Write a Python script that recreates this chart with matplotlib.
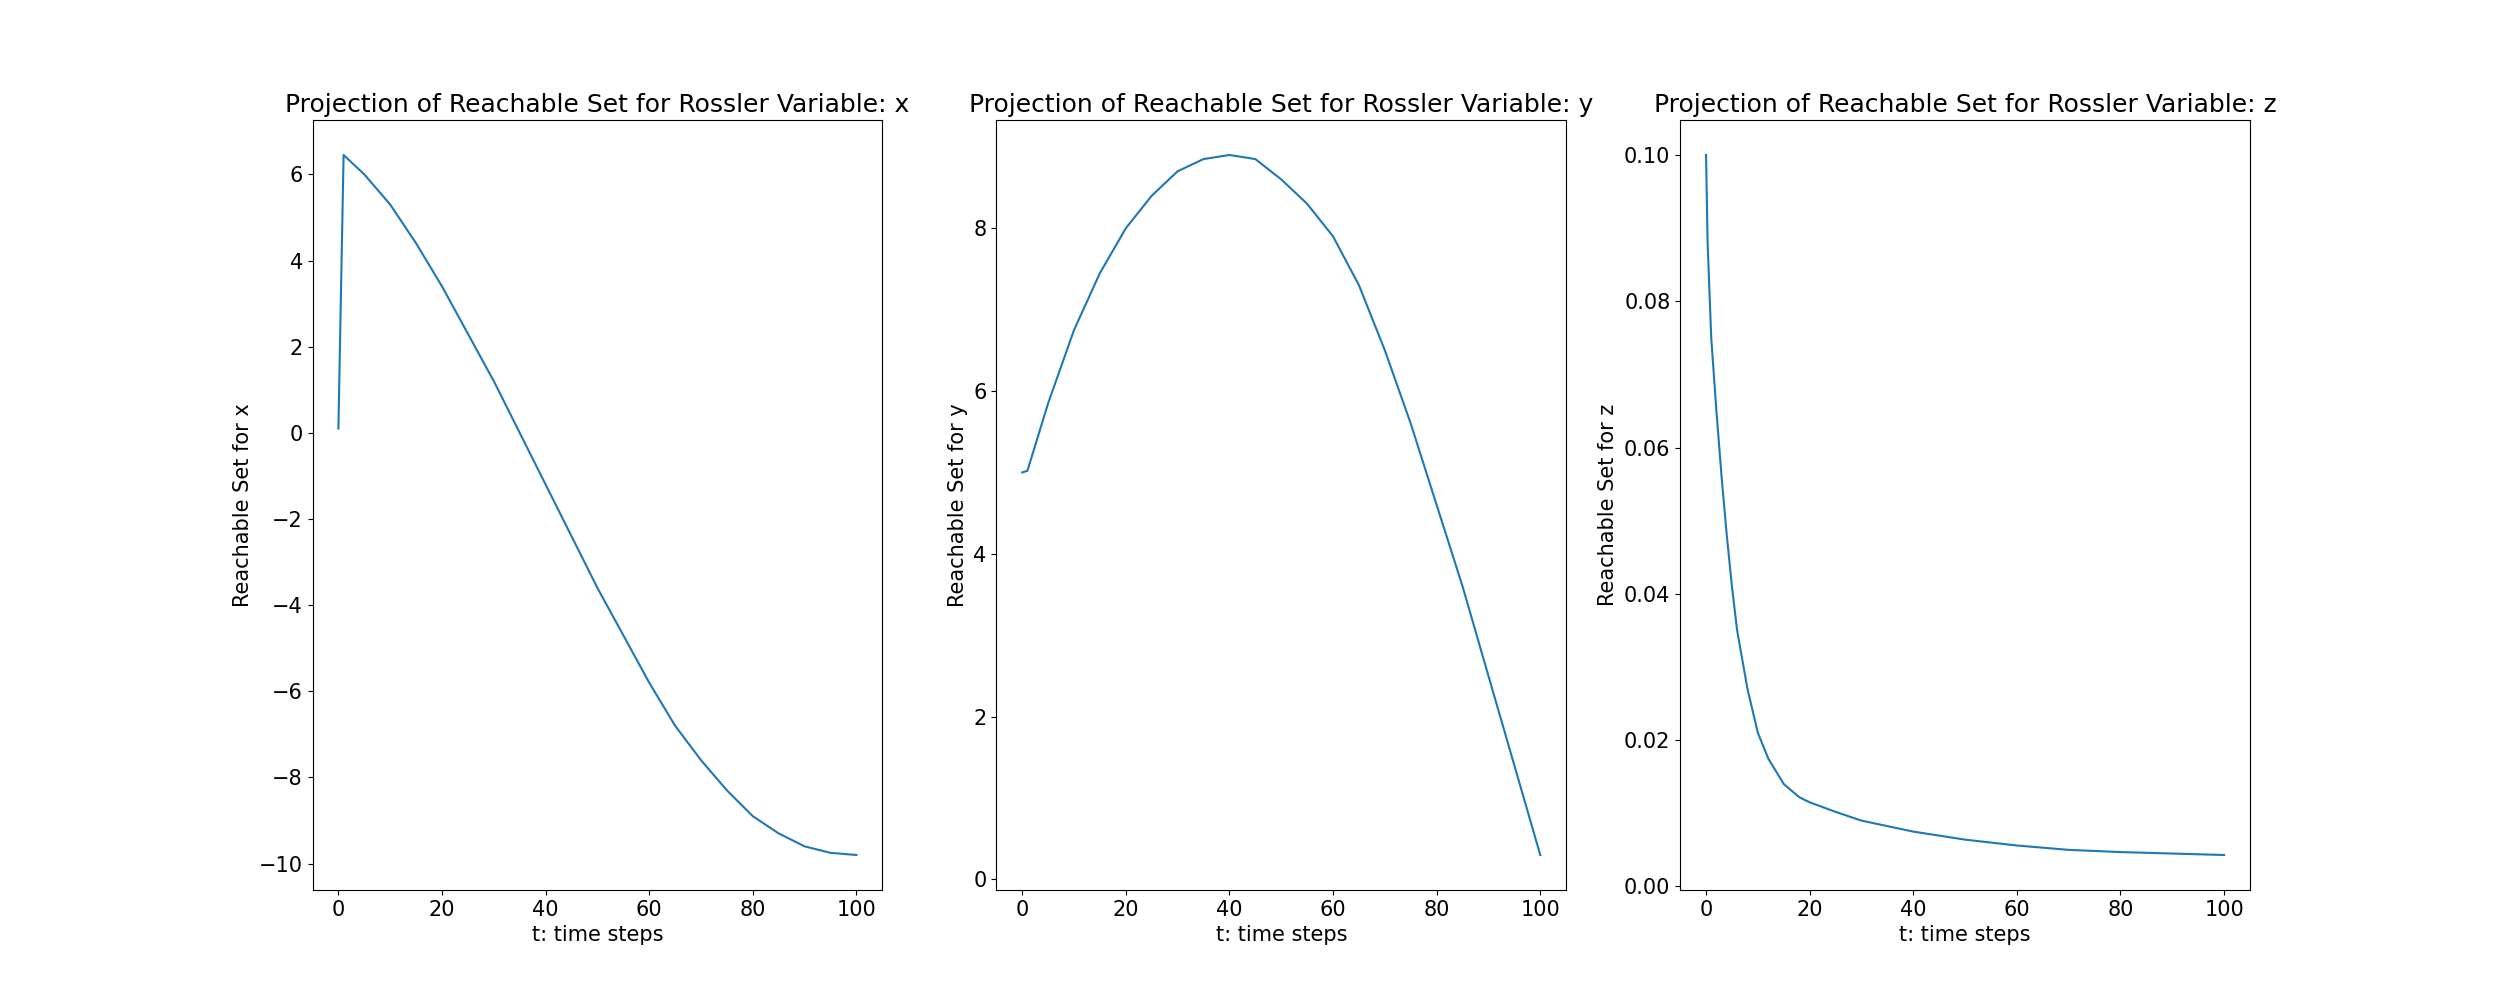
import numpy as np
import matplotlib
matplotlib.use("Agg")
import matplotlib.pyplot as plt

# values
tx = [0, 1, 5, 10, 15, 20, 25, 30, 35, 40, 45, 50, 55, 60, 65, 70, 75, 80, 85, 90, 95, 100]
x = [0.1, 6.45, 6.0, 5.3, 4.4, 3.4, 2.3, 1.2, 0.0, -1.2, -2.4, -3.6, -4.7, -5.8, -6.8, -7.6, -8.3, -8.9, -9.3, -9.6, -9.75, -9.8]
ty = [0, 1, 5, 10, 15, 20, 25, 30, 35, 40, 45, 50, 55, 60, 65, 70, 75, 80, 85, 90, 95, 100]
y = [5.0, 5.02, 5.85, 6.75, 7.45, 8.0, 8.4, 8.7, 8.85, 8.9, 8.85, 8.6, 8.3, 7.9, 7.3, 6.5, 5.6, 4.6, 3.6, 2.5, 1.4, 0.3]
tz = [0, 0.3, 1, 2, 3, 4, 5, 6, 7, 8, 10, 12, 15, 18, 20, 25, 30, 40, 50, 60, 70, 80, 90, 100]
z = [0.1, 0.088, 0.075, 0.065, 0.056, 0.048, 0.041, 0.035, 0.031, 0.027, 0.021, 0.0175, 0.014, 0.0122, 0.0115, 0.0102, 0.009, 0.0075, 0.0064, 0.0056, 0.005, 0.0047, 0.0045, 0.0043]

series = [("x", tx, x), ("y", ty, y), ("z", tz, z)]

plt.rcParams["font.size"] = 15
fig, axes = plt.subplots(1, 3, figsize=(25, 10))
for ax, (name, t, v) in zip(axes, series):
    ax.plot(t, v)
    ax.set_title("Projection of Reachable Set for Rossler Variable: " + name, fontsize=18)
    ax.set_xlabel("t: time steps")
    ax.set_ylabel("Reachable Set for " + name)
    ax.set_xticks([0, 20, 40, 60, 80, 100])
fig.savefig("out.png", dpi=100)
